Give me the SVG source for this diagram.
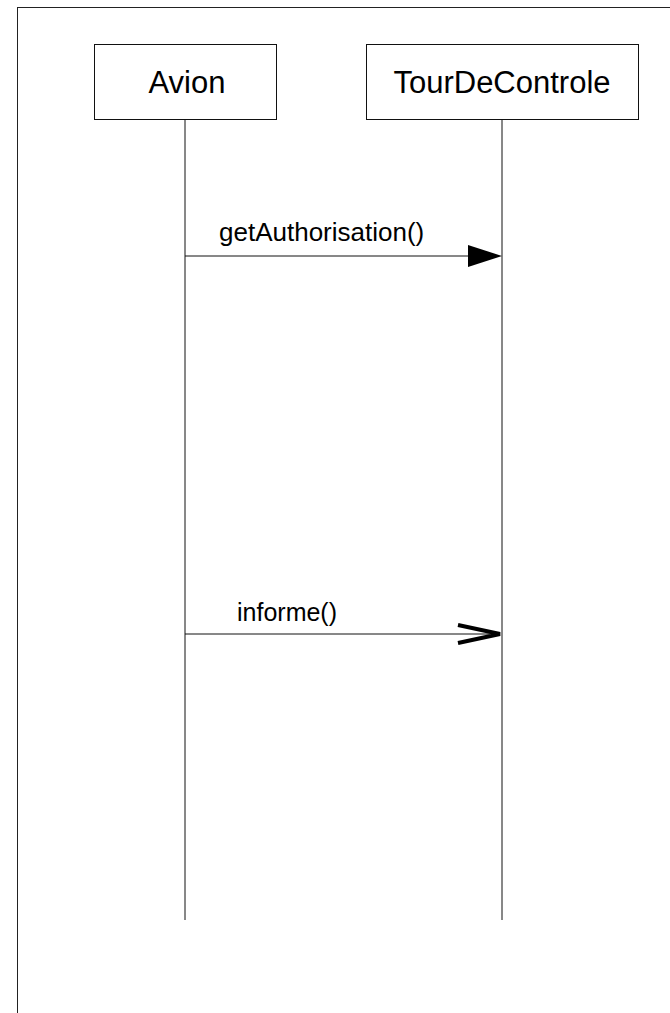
<svg xmlns="http://www.w3.org/2000/svg" width="670" height="1013" viewBox="0 0 670 1013">
  <style>
    .frame { fill: none; stroke: #222; stroke-width: 1; }
    .box { fill: #fff; stroke: #111; stroke-width: 1; }
    .lifeline { stroke: #111; stroke-width: 1; fill: none; }
    .name { font-family: "Liberation Sans", Arial, sans-serif; font-size: 31px; fill: #000; text-anchor: middle; }
    .msg { stroke: #111; stroke-width: 1; fill: none; }
    .label { font-family: "Liberation Sans", Arial, sans-serif; font-size: 25px; fill: #000; }
    .label.wide { font-size: 26px; }
  </style>
  <rect width="670" height="1013" fill="#fff"/>
  <!-- sequence frame (runs past the page edges on the right and bottom) -->
  <rect class="frame" x="17.5" y="7.5" width="700" height="1050"/>

  <g id="avion">
    <rect class="box" x="94.5" y="44.5" width="182" height="75"/>
    <text class="name" x="187" y="93">Avion</text>
    <line class="lifeline" x1="185" y1="119.5" x2="185" y2="920"/>
  </g>

  <g id="tourDeControle">
    <rect class="box" x="366.5" y="44.5" width="272" height="75"/>
    <text class="name" x="502" y="93">TourDeControle</text>
    <line class="lifeline" x1="502" y1="119.5" x2="502" y2="920"/>
  </g>

  <g id="messages">
    <!-- synchronous call: filled head -->
    <line class="msg" x1="185" y1="256" x2="470" y2="256"/>
    <polygon points="468,245 502,256 468,267" fill="#000"/>
    <text class="label wide" x="219" y="241">getAuthorisation()</text>

    <!-- asynchronous call: open head -->
    <line class="msg" x1="185" y1="634" x2="500" y2="634"/>
    <polyline points="458,625 500,634 458,643" fill="none" stroke="#000" stroke-width="4" stroke-linejoin="miter"/>
    <text class="label" x="237" y="621">informe()</text>
  </g>
</svg>
